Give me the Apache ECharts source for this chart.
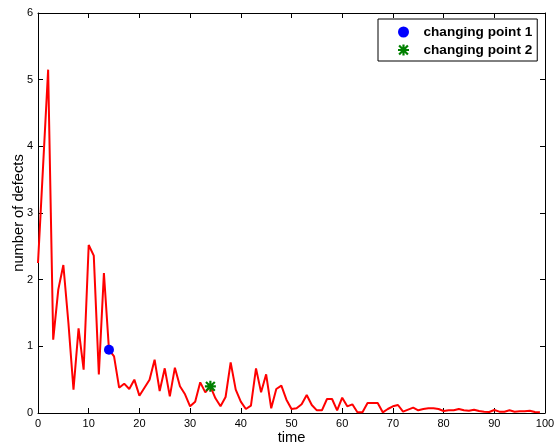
<!DOCTYPE html>
<html>
<head>
<meta charset="utf-8">
<script src="https://cdn.jsdelivr.net/npm/echarts@6/dist/echarts.min.js"></script>
<style>
  html, body { margin: 0; padding: 0; background: #fff; }
  #main { width: 554px; height: 444px; }
</style>
</head>
<body>
<div id="main"></div>
<script>
// number of defects per time step (t = 0..99)
const defects = [
  2.25, 3.7, 5.15, 1.1, 1.85, 2.22, 1.35, 0.35, 1.27, 0.65,
  2.52, 2.36, 0.58, 2.1, 0.95, 0.85, 0.38, 0.44, 0.36, 0.5,
  0.26, 0.38, 0.5, 0.8, 0.33, 0.67, 0.25, 0.68, 0.4, 0.28,
  0.1, 0.17, 0.46, 0.31, 0.4, 0.22, 0.1, 0.24, 0.76, 0.35,
  0.17, 0.06, 0.11, 0.67, 0.31, 0.58, 0.07, 0.36, 0.41, 0.2,
  0.06, 0.07, 0.13, 0.27, 0.12, 0.04, 0.04, 0.21, 0.21, 0.04,
  0.23, 0.1, 0.13, 0.01, 0.01, 0.15, 0.15, 0.15, 0.01, 0.06,
  0.1, 0.12, 0.02, 0.05, 0.08, 0.04, 0.06, 0.07, 0.07, 0.06,
  0.03, 0.04, 0.04, 0.06, 0.04, 0.035, 0.05, 0.03, 0.02, 0.015,
  0.045, 0.02, 0.02, 0.04, 0.02, 0.025, 0.025, 0.035, 0.015, 0.01
]
const times = defects.map((_, i) => i)

const changePoint1 = [14, 0.95]
const changePoint2 = [34, 0.4]

const xTicks = [0, 10, 20, 30, 40, 50, 60, 70, 80, 90, 100]
const yTicks = [0, 1, 2, 3, 4, 5, 6]

// asterisk symbol (matlab '*')
const starPath = 'path://M0 4 H10 V6 H0 Z M4 0 H6 V10 H4 Z M0.3 1.7 L1.7 0.3 L9.7 8.3 L8.3 9.7 Z M8.3 0.3 L9.7 1.7 L1.7 9.7 L0.3 8.3 Z'

const font = 'Liberation Sans, Arial, sans-serif'

const chart = echarts.init(document.getElementById('main'))

function baseAxis() {
  return {
    type: 'value',
    gridIndex: 0,
    axisLine: { show: true, onZero: false, lineStyle: { color: '#000', width: 1 } },
    axisTick: { show: true, inside: true, length: 5, lineStyle: { color: '#000' } },
    splitLine: { show: false }
  }
}

const option = {
  animation: false,
  grid: { left: 38, right: 9, top: 13, bottom: 31, containLabel: false, outerBoundsMode: 'none' },
  legend: {
    orient: 'vertical',
    left: 378,
    top: 19,
    backgroundColor: '#fff',
    borderColor: '#000',
    borderWidth: 1,
    borderRadius: 0,
    padding: [6, 5, 4, 20],
    itemWidth: 30,
    itemHeight: 11,
    itemGap: 4,
    textStyle: { fontFamily: font, fontSize: 13.6, fontWeight: 'bold', color: '#000' },
    data: ['changing point 1', 'changing point 2']
  },
  xAxis: [
    Object.assign(baseAxis(), {
      position: 'bottom',
      min: xTicks[0], max: xTicks[xTicks.length - 1], interval: 10,
      name: 'time',
      nameLocation: 'middle',
      nameGap: 17,
      nameMoveOverlap: false,
      nameTextStyle: { fontFamily: font, fontSize: 14.7, color: '#000' },
      axisLabel: { fontFamily: font, fontSize: 11, color: '#000', margin: 5 }
    }),
    Object.assign(baseAxis(), {
      position: 'top',
      min: xTicks[0], max: xTicks[xTicks.length - 1], interval: 10,
      axisLabel: { show: false }
    })
  ],
  yAxis: [
    Object.assign(baseAxis(), {
      position: 'left',
      min: yTicks[0], max: yTicks[yTicks.length - 1], interval: 1,
      name: 'number of defects',
      nameLocation: 'middle',
      nameGap: 12,
      nameMoveOverlap: false,
      nameTextStyle: { fontFamily: font, fontSize: 14.7, color: '#000' },
      axisLabel: { fontFamily: font, fontSize: 11, color: '#000', margin: 5 }
    }),
    Object.assign(baseAxis(), {
      position: 'right',
      min: yTicks[0], max: yTicks[yTicks.length - 1], interval: 1,
      axisLabel: { show: false }
    })
  ],
  series: [
    {
      name: 'defects',
      type: 'line',
      data: times.map((t, i) => [t, defects[i]]),
      showSymbol: false,
      lineStyle: { color: '#ff0000', width: 2 },
      itemStyle: { color: '#ff0000' },
      z: 2
    },
    {
      name: 'changing point 1',
      type: 'scatter',
      data: [changePoint1],
      symbol: 'circle',
      symbolSize: 10,
      itemStyle: { color: '#0000ff', opacity: 1 },
      z: 3
    },
    {
      name: 'changing point 2',
      type: 'scatter',
      data: [changePoint2],
      symbol: starPath,
      symbolSize: 11,
      itemStyle: { color: '#008000', opacity: 1 },
      z: 3
    }
  ]
}

chart.setOption(option)
</script>
</body>
</html>
